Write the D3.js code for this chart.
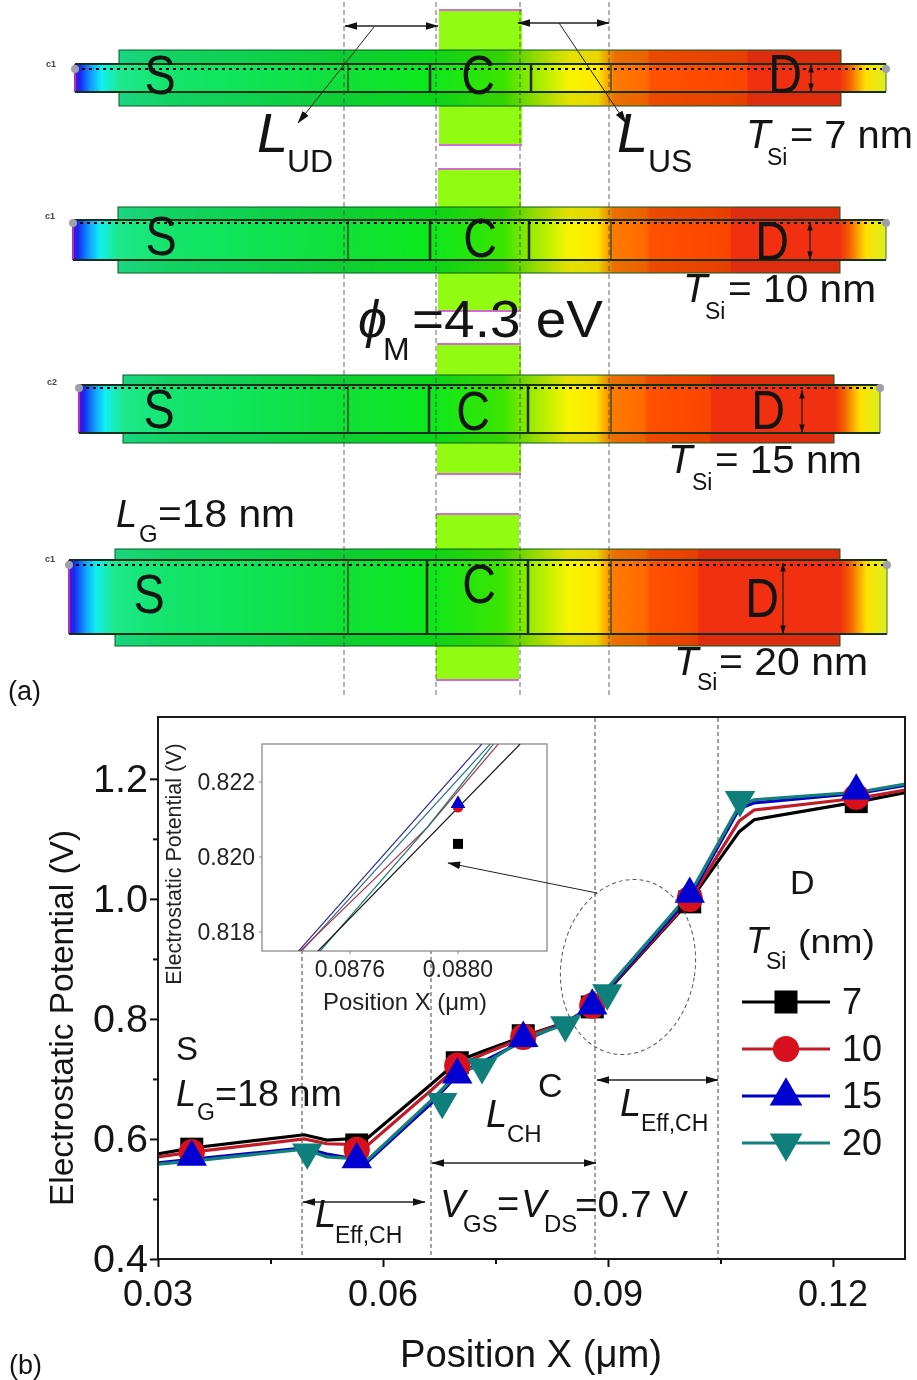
<!DOCTYPE html>
<html><head><meta charset="utf-8">
<script src="https://cdn.jsdelivr.net/npm/d3@7/dist/d3.min.js"></script>
<style>html,body{margin:0;padding:0;background:#fff}svg{display:block;filter:blur(0.4px)}text{font-family:"Liberation Sans",Arial,sans-serif;fill:#141414}</style>
</head><body><svg id="c" width="917" height="1380"></svg>
<script>
// ---------- chart data (b) ----------
const lineX   = [0.03,0.0345,0.0495,0.0525,0.0580,0.0665,0.0700,0.0735,0.0790,0.0845,0.0880,0.1010,0.1075,0.1095,0.1235,0.1300];
const line7   = [0.575,0.585,0.607,0.598,0.602,0.692,0.730,0.747,0.772,0.795,0.820,0.998,1.112,1.132,1.162,1.178];
const line10  = [0.570,0.578,0.600,0.592,0.590,0.682,0.722,0.742,0.770,0.795,0.822,1.000,1.130,1.148,1.168,1.182];
const line15  = [0.560,0.566,0.585,0.575,0.563,0.660,0.708,0.730,0.765,0.795,0.822,1.005,1.150,1.160,1.176,1.190];
const line20  = [0.558,0.563,0.583,0.570,0.566,0.665,0.710,0.725,0.768,0.792,0.824,1.010,1.155,1.165,1.178,1.192];
const markX   = [0.0345,0.0565,0.0699,0.0787,0.0879,0.1009,0.1231];
const mark7   = [0.583,0.590,0.727,0.772,0.820,0.995,1.162];
const mark10  = [0.578,0.582,0.722,0.770,0.822,1.000,1.170];
const mark15  = [0.570,0.566,0.707,0.768,0.822,1.008,1.180];
const mark20X = [0.0499,0.0679,0.0732,0.0843,0.0899,0.1076];
const mark20  = [0.578,0.662,0.720,0.790,0.843,1.165];
const seriesNames = ["7","10","15","20"];
const seriesColors = ["#000000","#d80f1c","#0000d0","#0f7f7c"];
const lineColors   = ["#000000","#c01c28","#0000c0","#14807c"];
const xTickValues = [0.03,0.06,0.09,0.12];
const yTickValues = [0.4,0.6,0.8,1.0,1.2];

// ---------- inset data ----------
const insetBlue  = [[0.087409,0.81749],[0.088088,0.82301]];
const insetBlue2 = [[0.087421,0.81749],[0.088119,0.82301]];
const insetRed   = [[0.087415,0.81749],[0.087884,0.82077],[0.088149,0.82301]];
const insetTeal  = [[0.087489,0.81749],[0.087884,0.82077],[0.088131,0.82301]];
const insetBlack = [[0.087481,0.81749],[0.088230,0.82301]];
const insetXTicks = [0.0876,0.0880];
const insetYTicks = [0.818,0.820,0.822];

// ---------- device rows (a) ----------
const deviceNames = ["7 nm","10 nm","15 nm","20 nm"];
const potentialStops = [[0,"#5a10c8"],[.006,"#1528f0"],[.02,"#10a0ff"],[.033,"#10f0f0"],[.055,"#1ee88c"],[.12,"#14e46a"],[.2,"#10e45a"],[.33,"#10e038"],[.44,"#0ce81c"],[.53,"#3ce400"],[.565,"#98ec00"],[.61,"#f8f400"],[.645,"#ffe800"],[.66,"#ff9800"],[.665,"#ff7a00"],[.705,"#ff6a00"],[.71,"#ff5200"],[.83,"#fb4400"],[.835,"#f03010"],[.943,"#f03010"],[.955,"#f46000"],[.975,"#ffe000"],[1,"#d8f020"]];

const svg = d3.select("#c");
const defs = svg.append("defs");

function label(x,y,t,size,o={}){
  const e = svg.append("text").attr("x",x).attr("y",y).attr("font-size",size).text(t);
  if(o.italic) e.attr("font-style","italic");
  if(o.anchor) e.attr("text-anchor",o.anchor);
  if(o.fill) e.style("fill",o.fill);
  if(o.weight) e.attr("font-weight",o.weight);
  if(o.len) e.attr("textLength",o.len).attr("lengthAdjust","spacingAndGlyphs");
  return e;
}
function marker(id,color,w){
  defs.append("marker").attr("id",id).attr("viewBox","0 0 10 6").attr("refX",9.5).attr("refY",3)
    .attr("markerWidth",w).attr("markerHeight",w*.6).attr("markerUnits","userSpaceOnUse").attr("orient","auto-start-reverse")
    .append("path").attr("d","M0,0L10,3L0,6Z").attr("fill",color);
}
marker("ah","#111",13);
marker("ahs","#111",9);
function arrow(x1,y1,x2,y2,both,id="ah",w=1.3){
  const l = svg.append("line").attr("x1",x1).attr("y1",y1).attr("x2",x2).attr("y2",y2)
    .attr("stroke","#222").attr("stroke-width",w).attr("marker-end",`url(#${id})`);
  if(both) l.attr("marker-start",`url(#${id})`);
}

// ---- panel (a) ----
const layout = [
 {ox:[119,841],oy:[50,106],bx:[75,886],by:[64,92],dash:69,g:[439,522],gy:[10,145],t:[430,531],redAt:.83},
 {ox:[118,840],oy:[207,273],bx:[73,886],by:[220,260],dash:223,g:[438,521],gy:[169,311],t:[430,529],redAt:.81},
 {ox:[123,834],oy:[375,443],bx:[79,880],by:[385,433],dash:388,g:[437,521],gy:[344,474],t:[429,528],redAt:.79},
 {ox:[115,840],oy:[549,646],bx:[69,887],by:[560,634],dash:565,g:[436,519],gy:[514,680],t:[427,528],redAt:.77}
];
layout.forEach((d,i)=>{
  const gr = defs.append("linearGradient").attr("id","pot"+i).attr("gradientUnits","userSpaceOnUse")
     .attr("x1",d.bx[0]).attr("x2",d.bx[1]).attr("y1",0).attr("y2",0);
  potentialStops.forEach(s=>{
     let o=s[0]; 
     if(o===.83) o=d.redAt-.002; if(o===.835) o=d.redAt;
     gr.append("stop").attr("offset",o).attr("stop-color",s[1]);
  });
  // gate
  svg.append("rect").attr("x",d.g[0]).attr("y",d.gy[0]).attr("width",d.g[1]-d.g[0]).attr("height",d.gy[1]-d.gy[0]).attr("fill","#92fb12");
  [d.gy[0],d.gy[1]].forEach(y=>svg.append("line").attr("x1",d.g[0]).attr("x2",d.g[1]).attr("y1",y).attr("y2",y).attr("stroke","#d36bd0").attr("stroke-width",2));
  // oxide
  svg.append("rect").attr("x",d.ox[0]).attr("y",d.oy[0]).attr("width",d.ox[1]-d.ox[0]).attr("height",d.oy[1]-d.oy[0]).attr("fill",`url(#pot${i})`);
  svg.append("rect").attr("x",d.ox[0]).attr("y",d.oy[0]).attr("width",d.ox[1]-d.ox[0]).attr("height",d.oy[1]-d.oy[0]).attr("fill","#000").attr("fill-opacity",.08).attr("stroke","#0a5a25").attr("stroke-width",1);
  // body
  svg.append("rect").attr("x",d.bx[0]).attr("y",d.by[0]).attr("width",d.bx[1]-d.bx[0]).attr("height",d.by[1]-d.by[0]).attr("fill",`url(#pot${i})`);
  svg.append("line").attr("x1",d.bx[0]).attr("x2",d.bx[0]).attr("y1",d.by[0]).attr("y2",d.by[1]).attr("stroke","#b030c8").attr("stroke-width",2);
  [d.by[0],d.by[1]].forEach(y=>svg.append("line").attr("x1",d.bx[0]).attr("x2",d.bx[1]).attr("y1",y).attr("y2",y).attr("stroke","#15301a").attr("stroke-width",2));
  svg.append("line").attr("x1",d.bx[1]).attr("x2",d.bx[1]).attr("y1",d.by[0]).attr("y2",d.by[1]).attr("stroke","#556b20").attr("stroke-width",1);
  // junction marks
  d.t.forEach(x=>svg.append("line").attr("x1",x).attr("x2",x).attr("y1",d.by[0]).attr("y2",d.by[1]).attr("stroke","#262a10").attr("stroke-width",2.5));
  [348,611].forEach(x=>svg.append("line").attr("x1",x).attr("x2",x).attr("y1",d.by[0]).attr("y2",d.by[1]).attr("stroke","#26401a").attr("stroke-width",1.3));
  // dotted cut line
  svg.append("line").attr("x1",d.bx[0]).attr("x2",d.bx[1]).attr("y1",d.dash).attr("y2",d.dash).attr("stroke","#000").attr("stroke-width",2).attr("stroke-dasharray","3,4");
  d.bx.forEach(x=>svg.append("circle").attr("cx",x).attr("cy",d.dash).attr("r",4).attr("fill","#a0a0a8"));
});
[344,436,520,609].forEach(x=>svg.append("line").attr("x1",x).attr("x2",x).attr("y1",2).attr("y2",696).attr("stroke","#444").attr("stroke-width",.8).attr("stroke-dasharray","5,3"));

[["S",160,94],["C",478,94],["D",785,93],["S",161,255],["C",480,257],["D",772,260],["S",159,428],["C",473,430],["D",768,429],["S",149,613],["C",479,603],["D",762,617]]
 .forEach(([t,x,y])=>label(0,0,t,55,{anchor:"middle"}).attr("transform",`translate(${x},${y}) scale(.85,1)`));
[["c1",46,67],["c1",45,219],["c2",47,385],["c1",45,562]].forEach(([t,x,y])=>label(x,y,t,9,{fill:"#444",weight:"bold"}));

// arrows top
arrow(345,26,438,26,true);
arrow(518,23,609,23,true);
arrow(374,27,298,123,false,"ah",1);
arrow(559,23,626,123,false,"ah",1);
[[811,64,92],[810,222,260],[802,390,433],[783,563,634]].forEach(([x,a,b])=>arrow(x,a,x,b,true,"ahs",1.3));

label(257,152,"L",56,{italic:true});label(287,172,"UD",32);
label(617,152,"L",56,{italic:true});label(648,172,"US",32);
label(746,148,"T",40,{italic:true});label(767,165,"Si",23);label(790,148,"= "+deviceNames[0],39,{len:123});
label(683,302,"T",40,{italic:true});label(705,319,"Si",23);label(728,302,"= "+deviceNames[1],39,{len:148});
label(668,473,"T",40,{italic:true});label(692,490,"Si",23);label(715,473,"= "+deviceNames[2],39,{len:147});
label(674,675,"T",40,{italic:true});label(697,690,"Si",23);label(719,675,"= "+deviceNames[3],39,{len:149});
label(358,337,"\u03D5",52,{italic:true});label(383,360,"M",32);label(412,337,"=4.3 eV",52,{len:191});
label(116,527,"L",38,{italic:true});label(139,542,"G",24);label(158,527,"=18 nm",38,{len:137});
label(8,700,"(a)",27);
label(9,1374,"(b)",27);

// ---- panel (b) ----
const M={l:158,r:905,t:717,b:1259};
const x=d3.scaleLinear().domain([0.03,0.1296]).range([M.l,M.r]);
const y=d3.scaleLinear().domain([0.4,1.303]).range([M.b,M.t]);
defs.append("clipPath").attr("id","mc").append("rect").attr("x",M.l).attr("y",M.t).attr("width",M.r-M.l).attr("height",M.b-M.t);

// guides
[[302,950],[431,950],[595,718],[718,718]].forEach(([gx,top])=>svg.append("line").attr("x1",gx).attr("x2",gx).attr("y1",top).attr("y2",M.b).attr("stroke","#444").attr("stroke-width",1).attr("stroke-dasharray","4,3"));

const lineGen=d3.line().x((d,i)=>x(lineX[i])).y(d=>y(d));
const lineData=[line7,line10,line15,line20];
const plot=svg.append("g").attr("clip-path","url(#mc)");
const markers=[[markX,mark7,d3.symbolSquare,529],[markX,mark10,d3.symbolCircle,540],[markX,mark15,d3.symbolTriangle,400],[mark20X,mark20,d3.symbolTriangle,400]];
lineData.forEach((v,k)=>{
  plot.append("path").attr("d",lineGen(v)).attr("fill","none").attr("stroke",lineColors[k]).attr("stroke-width",3.2);
});
markers.forEach(([mx,my,sym,size],k)=>{
  plot.selectAll(null).data(my).enter().append("path")
    .attr("d",d3.symbol().type(sym).size(size))
    .attr("transform",(d,i)=>`translate(${x(mx[i])},${y(d)})${k===3?" rotate(180)":""}`)
    .attr("fill",seriesColors[k]);
});

// axes
const xAxis=d3.axisBottom(x).tickValues(d3.range(0,9).map(i=>0.03+i*0.015).filter(v=>v<=0.13)).tickSize(0).tickFormat("");
svg.append("rect").attr("x",M.l).attr("y",M.t).attr("width",M.r-M.l).attr("height",M.b-M.t).attr("fill","none").attr("stroke","#1a1a1a").attr("stroke-width",2);
const bottom=svg.append("g").attr("transform",`translate(0,${M.b})`).call(xAxis);
bottom.select(".domain").remove();
bottom.selectAll(".tick line").attr("y2",(d,i)=>i%2?5:8).attr("stroke","#111").attr("stroke-width",2);
xTickValues.forEach(v=>label(x(v),1306,v.toFixed(2),36,{anchor:"middle"}));
const yAxis=d3.axisLeft(y).tickValues([.4,.5,.6,.7,.8,.9,1,1.1,1.2]).tickSize(0).tickFormat("");
const left=svg.append("g").attr("transform",`translate(${M.l},0)`).call(yAxis);
left.select(".domain").remove();
left.selectAll(".tick line").attr("x2",(d,i)=>i%2?-5:-8).attr("stroke","#111").attr("stroke-width",2);
yTickValues.forEach(v=>label(148,y(v)+13,v.toFixed(1),38,{anchor:"end",len:55}));
label(0,0,"Electrostatic Potential (V)",33.5,{anchor:"middle"}).attr("transform","translate(73,1018) rotate(-90)");
label(531,1367,"Position X (\u03BCm)",38,{anchor:"middle",len:262});

// annotations
label(176,1060,"S",33);
label(176,1106,"L",36,{italic:true});label(197,1120,"G",23);label(215,1106,"=18 nm",36,{len:127});
arrow(303,1202,425,1202,true);
label(315,1227,"L",38,{italic:true});label(335,1243,"Eff,CH",23);
arrow(432,1163,596,1163,true);
label(538,1097,"C",34);
label(486,1127,"L",38,{italic:true});label(507,1142,"CH",24);
label(440,1217,"V",38,{italic:true});label(463,1232,"GS",24);label(497,1217,"=",38);
label(521,1217,"V",38,{italic:true});label(544,1232,"DS",24);label(575,1217,"=0.7 V",36,{len:113});
arrow(597,1080,718,1080,true);
label(620,1116,"L",38,{italic:true});label(641,1131,"Eff,CH",23);
label(790,894,"D",34);
label(746,953,"T",36,{italic:true});label(766,969,"Si",23);label(798,953,"(nm)",33,{len:77});

// legend
const legendY=[1002,1049,1096,1143];
legendY.forEach((ly,k)=>{
  svg.append("line").attr("x1",742).attr("x2",830).attr("y1",ly).attr("y2",ly).attr("stroke",lineColors[k]).attr("stroke-width",3.2);
  const m=markers[k];
  svg.append("path").attr("d",d3.symbol().type(m[2]).size(m[3]+(k>=2?60:0))()).attr("transform",`translate(786,${ly})${k===3?" rotate(180)":""}`).attr("fill",seriesColors[k]);
  label(842,ly+12,seriesNames[k],36);
});

// ellipse + pointer
svg.append("ellipse").attr("cx",0).attr("cy",0).attr("rx",67).attr("ry",88).attr("transform","translate(628,967) rotate(9)")
  .attr("fill","none").attr("stroke","#555").attr("stroke-width",1).attr("stroke-dasharray","4,3");

// inset
const I={l:262,r:547,t:744,b:951};
const ix=d3.scaleLinear().domain([0.0876,0.0880]).range([350,458]);
const iy=d3.scaleLinear().domain([0.818,0.820,0.822]).range([932,857,782]);
defs.append("clipPath").attr("id","ic").append("rect").attr("x",I.l).attr("y",I.t).attr("width",I.r-I.l).attr("height",I.b-I.t);
svg.append("rect").attr("x",I.l).attr("y",I.t).attr("width",I.r-I.l).attr("height",I.b-I.t).attr("fill","#fff").attr("stroke","#8a8a8a").attr("stroke-width",1.3);
const iGen=d3.line().x(d=>ix(d[0])).y(d=>iy(d[1]));
const ip=svg.append("g").attr("clip-path","url(#ic)");
[[insetBlue,"#2a2a9c"],[insetBlue2,"#2f6f90"],[insetRed,"#b03040"],[insetTeal,"#157a6c"],[insetBlack,"#111"]]
 .forEach(([d,c])=>ip.append("path").attr("d",iGen(d)).attr("fill","none").attr("stroke",c).attr("stroke-width",1.2));
const insetMarkX=[0.0880,0.0880,0.0880];
const insetMarkY=[0.82035,0.82133,0.82142];
const insetSym=[d3.symbolSquare,d3.symbolCircle,d3.symbolTriangle];
const insetSize=[100,90,95];
insetMarkY.forEach((v,i)=>ip.append("path").attr("d",d3.symbol().type(insetSym[i]).size(insetSize[i])()).attr("transform",`translate(${ix(insetMarkX[i])},${iy(v)})`).attr("fill",seriesColors[i]));
insetXTicks.forEach(v=>{
  svg.append("line").attr("x1",ix(v)).attr("x2",ix(v)).attr("y1",I.b).attr("y2",I.b+3).attr("stroke","#888");
  label(ix(v),977,v.toFixed(4),23,{anchor:"middle",fill:"#222"});
});
insetYTicks.forEach(v=>{
  svg.append("line").attr("x1",I.l-3).attr("x2",I.l).attr("y1",iy(v)).attr("y2",iy(v)).attr("stroke","#888");
  label(255,iy(v)+8,v.toFixed(3),23,{anchor:"end",fill:"#222"});
});
label(0,0,"Electrostatic Potential (V)",21.5,{anchor:"middle",fill:"#222"}).attr("transform","translate(181,864) rotate(-90)");
label(405,1010,"Position X (\u03BCm)",24,{anchor:"middle",fill:"#222",len:164});
arrow(597,893,448,863,false,"ah",1);
</script></body></html>
